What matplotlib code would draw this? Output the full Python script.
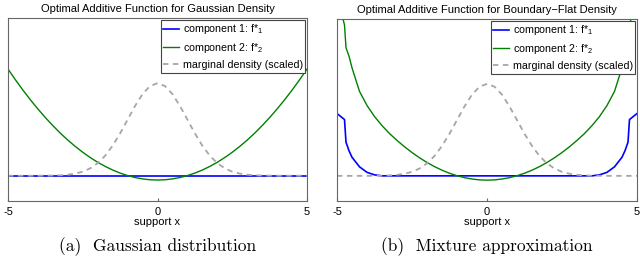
import numpy as np
import matplotlib
matplotlib.use("Agg")
import matplotlib.pyplot as plt

plt.rcParams["font.family"] = ["Liberation Sans", "DejaVu Sans"]
plt.rcParams["mathtext.fontset"] = "custom"
plt.rcParams["mathtext.rm"] = "Liberation Sans"
plt.rcParams["mathtext.it"] = "Liberation Sans"
plt.rcParams["axes.unicode_minus"] = False

# shared grid for the smooth parts
x = [-5, -4.75, -4.5, -4.25, -4, -3.75, -3.5, -3.25, -3, -2.75, -2.5, -2.25, -2, -1.75,
     -1.5, -1.25, -1, -0.75, -0.5, -0.25, 0, 0.25, 0.5, 0.75, 1, 1.25, 1.5, 1.75, 2,
     2.25, 2.5, 2.75, 3, 3.25, 3.5, 3.75, 4, 4.25, 4.5, 4.75, 5]

# marginal density (scaled), same in both panels
density = [0, 0, 0, 0, 0, 0.002, 0.004, 0.009, 0.020, 0.042, 0.080, 0.146, 0.248, 0.396,
           0.594, 0.838, 1.110, 1.381, 1.615, 1.774, 1.830, 1.774, 1.615, 1.381, 1.110,
           0.838, 0.594, 0.396, 0.248, 0.146, 0.080, 0.042, 0.020, 0.009, 0.004, 0.002,
           0, 0, 0, 0, 0]

# panel (a): Gaussian density
f1_gauss = [0] * len(x)
f2_gauss = [2.110, 1.896, 1.693, 1.501, 1.320, 1.150, 0.991, 0.842, 0.705, 0.579, 0.464,
            0.360, 0.266, 0.184, 0.113, 0.052, 0.003, -0.036, -0.063, -0.080, -0.085,
            -0.080, -0.063, -0.036, 0.003, 0.052, 0.113, 0.184, 0.266, 0.360, 0.464,
            0.579, 0.705, 0.842, 0.991, 1.150, 1.320, 1.501, 1.693, 1.896, 2.110]

# panel (b): boundary-flat density (extra points near the edges)
x_mix = [-5, -4.75, -4.7, -4.6, -4.5, -4.25, -4, -3.75, -3.5, -3.25, -3, -2.75, -2.5,
         -2.25, -2, -1.75, -1.5, -1.25, -1, -0.75, -0.5, -0.25, 0, 0.25, 0.5, 0.75, 1,
         1.25, 1.5, 1.75, 2, 2.25, 2.5, 2.75, 3, 3.25, 3.5, 3.75, 4, 4.25, 4.5, 4.6,
         4.7, 4.75, 5]
f1_mix = [1.24, 1.12, 0.67, 0.50, 0.37, 0.18, 0.07, 0.02, 0, 0, 0, 0, 0, 0, 0, 0, 0, 0,
          0, 0, 0, 0, 0, 0, 0, 0, 0, 0, 0, 0, 0, 0, 0, 0, 0, 0, 0, 0.02, 0.07, 0.18, 0.37,
          0.50, 0.67, 1.12, 1.24]
f2_mix = [3.6, 3.0, 2.55, 2.38, 2.15, 1.68, 1.40, 1.18, 1.00, 0.842, 0.705, 0.579, 0.464,
          0.360, 0.266, 0.184, 0.113, 0.052, 0.003, -0.036, -0.063, -0.080, -0.085,
          -0.080, -0.063, -0.036, 0.003, 0.052, 0.113, 0.184, 0.266, 0.360, 0.464, 0.579,
          0.705, 0.842, 1.00, 1.18, 1.40, 1.68, 2.15, 2.38, 2.55, 3.0, 3.6]

titles = ["Optimal Additive Function for Gaussian Density",
          "Optimal Additive Function for Boundary\u2212Flat Density"]
captions = ["(a)  Gaussian distribution", "(b)  Mixture approximation"]
xticks = [-5, 0, 5]
xticklabels = ["-5", "0", "5"]

fig = plt.figure(figsize=(6.4, 2.59), dpi=100)
ax1 = fig.add_axes([8 / 640, 58 / 259, 299 / 640, 183 / 259])
ax2 = fig.add_axes([337 / 640, 58 / 259, 300 / 640, 182 / 259])

panels = [(ax1, x, f1_gauss, x, f2_gauss), (ax2, x_mix, f1_mix, x_mix, f2_mix)]
for i, (ax, xa, f1, xb, f2) in enumerate(panels):
    ax.plot(xa, f1, color="#0000ff", lw=1.2, label="component 1: f*$_{1}$")
    ax.plot(xb, f2, color="#008000", lw=1.0, label="component 2: f*$_{2}$")
    ax.plot(x, density, color="#a6a6a6", lw=1.3, ls=(0, (3, 2.5)),
            label="marginal density (scaled)")
    ax.set_xlim(-5, 5)
    ax.set_ylim(-0.5, 3.12)
    ax.set_yticks([])
    ax.set_xticks(xticks)
    ax.set_xticklabels(xticklabels)
    ax.tick_params(axis="x", direction="in", length=2.5, labelsize=8, pad=4,
                   color="#666666")
    for s in ax.spines.values():
        s.set_color("#666666")
        s.set_linewidth(0.8)
    ax.set_xlabel("support x", fontsize=8, labelpad=0)
    ax.set_title(titles[i], fontsize=8, pad=4)
    leg = ax.legend(loc="upper right", fontsize=7.7, handlelength=1.5, handletextpad=0.3,
                    borderpad=0.25, labelspacing=0.45, borderaxespad=0.15,
                    fancybox=False, framealpha=1)
    leg.get_frame().set_edgecolor("#444444")
    leg.get_frame().set_linewidth(0.8)
    pos = ax.get_position()
    fig.text(pos.x0 + pos.width / 2, 12 / 259, captions[i], ha="center", va="center",
             fontsize=12.5, family="cmr10")

fig.savefig("out.png", dpi=100)
